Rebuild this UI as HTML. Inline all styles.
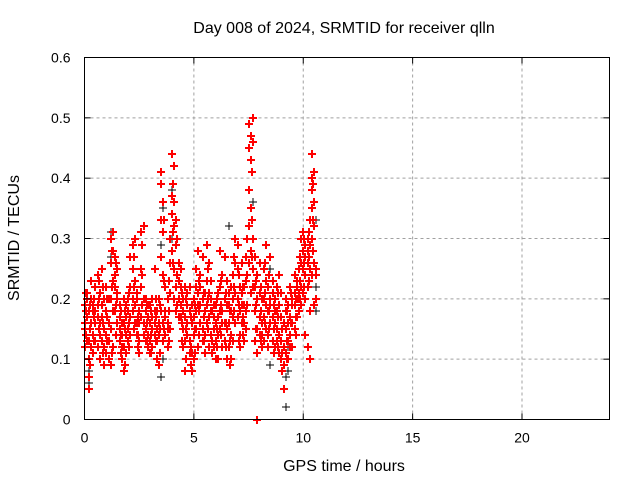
<!DOCTYPE html>
<html><head><meta charset="utf-8"><style>
body{margin:0;background:#fff}
svg text{font-family:"Liberation Sans",sans-serif;font-size:14px;fill:#000}
svg text.big{font-size:16px}
</style></head><body>
<svg id="c" width="640" height="480" xmlns="http://www.w3.org/2000/svg">
<rect width="640" height="480" fill="#fff"/>
<g id="grid"></g>
<g id="pts"></g>
<rect x="84.5" y="57.5" width="525" height="362" fill="none" stroke="#000"/>
<g id="ticks"></g>
<text class="big" x="344" y="33" text-anchor="middle">Day 008 of 2024, SRMTID for receiver qlln</text>
<text class="big" x="344" y="471" text-anchor="middle">GPS time / hours</text>
<text class="big" transform="translate(19,238) rotate(-90)" text-anchor="middle">SRMTID / TECUs</text>
</svg>
<script>
const xTicks=[0,5,10,15,20];
const yTicks=[0,0.1,0.2,0.3,0.4,0.5,0.6];
const yTickLabels=["0","0.1","0.2","0.3","0.4","0.5","0.6"];
const redHours=[0.0,0.1,0.2,0.3,0.4,0.5,0.6,0.7,0.8,0.9,1.0,1.1,1.2,1.3,1.4,1.5,1.6,1.7,1.8,1.9,2.0,2.1,2.2,2.3,2.4,2.5,2.6,2.7,2.8,2.9,3.0,3.1,3.2,3.3,3.4,3.5,3.6,3.7,3.8,3.9,4.0,4.1,4.2,4.3,4.4,4.5,4.6,4.7,4.8,4.9,5.0,5.1,5.2,5.3,5.4,5.5,5.6,5.7,5.8,5.9,6.0,6.1,6.2,6.3,6.4,6.5,6.6,6.7,6.8,6.9,7.0,7.1,7.2,7.3,7.4,7.5,7.6,7.7,7.8,7.9,8.0,8.1,8.2,8.3,8.4,8.5,8.6,8.7,8.8,8.9,9.0,9.1,9.2,9.3,9.4,9.5,9.6,9.7,9.8,9.9,10.0,10.1,10.2,10.3,10.4,10.5,7.9];
const redValues=[[.15,.19,.12,.16],[.2,.13,.17,.21],[.05,.07,.1,.18,.13],[.16,.2,.12,.23],[.18,.14,.19,.11],[.16,.22,.13,.18],[.17,.12,.19,.24],[.1,.14,.21,.16],[.25,.19,.13,.17],[.12,.15,.2,.09],[.18,.11,.14,.22],[.16,.1,.13,.2],[.3,.26,.2,.15,.09],[.31,.28,.23,.18,.12],[.27,.24,.18,.22],[.2,.16,.25,.21],[.19,.13,.15,.17],[.14,.1,.12,.16],[.16,.12,.08,.2],[.14,.19,.17,.11],[.2,.15,.18,.13],[.22,.17,.27,.14],[.29,.25,.2,.18],[.3,.23,.19,.16],[.21,.16,.14,.2],[.13,.11,.18,.16],[.31,.25,.22,.17],[.32,.2,.16,.14],[.18,.15,.13,.2],[.17,.12,.14,.19],[.16,.19,.13,.11],[.15,.2,.17,.12],[.25,.18,.16,.14],[.1,.15,.18,.13],[.16,.2,.09,.14],[.41,.39,.33,.27,.18],[.36,.31,.24,.16,.13],[.18,.22,.14,.17],[.2,.16,.15,.12],[.26,.3,.21,.15],[.44,.37,.34,.28],[.42,.36,.32,.25,.2],[.33,.29,.22,.18],[.26,.2,.17,.23],[.25,.22,.17,.19],[.2,.15,.12,.18],[.22,.17,.13,.08],[.19,.16,.21,.14],[.13,.11,.18,.22],[.16,.08,.11,.19],[.2,.17,.14,.1],[.25,.22,.18,.15],[.28,.21,.19,.12],[.24,.19,.16,.22],[.27,.2,.15,.13],[.18,.14,.21,.11],[.29,.23,.19,.16],[.26,.21,.17,.12],[.23,.18,.14,.2],[.19,.15,.12,.17],[.13,.1,.16,.19],[.17,.14,.1,.21],[.28,.22,.18,.15],[.24,.18,.12,.16],[.27,.2,.16,.13],[.23,.19,.15,.1],[.16,.12,.19,.21],[.14,.18,.22,.1],[.24,.2,.17,.13],[.3,.26,.21,.16],[.29,.25,.2,.17],[.22,.18,.14,.12],[.26,.21,.19,.16],[.19,.16,.13,.22],[.27,.23,.18,.15],[.49,.45,.38,.32,.26],[.47,.43,.35,.28,.21],[.5,.46,.3,.25,.22],[.27,.22,.18,.13],[.24,.2,.15,.11],[.26,.21,.17,.14],[.2,.16,.12,.14],[.25,.2,.17,.13],[.29,.23,.19,.15],[.22,.18,.14,.12],[.27,.2,.16,.19],[.21,.17,.13,.23],[.2,.16,.12,.18],[.22,.18,.15,.13],[.24,.19,.14,.11],[.21,.17,.13,.1],[.16,.12,.09,.05],[.2,.15,.11,.18],[.19,.13,.1,.16],[.22,.17,.14,.12],[.2,.16,.12,.19],[.24,.19,.15,.21],[.23,.2,.17,.22],[.25,.21,.18,.2],[.3,.26,.22,.19],[.31,.28,.25,.21],[.29,.27,.24,.2,.14],[.3,.28,.26,.22,.12],[.33,.29,.25,.18,.1],[.44,.4,.38,.35,.3,.24],[.41,.36,.32,.26,.19],[0,0,0]];
const redHours2=[0.05,0.25,0.45,0.65,0.85,1.05,1.25,1.45,1.65,1.85,2.05,2.25,2.45,2.65,2.85,3.05,3.25,3.45,3.65,3.85,4.05,4.25,4.45,4.65,4.85,5.05,5.25,5.45,5.65,5.85,6.05,6.25,6.45,6.65,6.85,7.05,7.25,7.45,7.65,7.85,8.05,8.25,8.45,8.65,8.85,9.05,9.25,9.45,9.65,9.85,10.05,10.25,10.45,10.6];
const redValues2=[[.14,.18,.21],[.09,.15,.19],[.13,.17,.2],[.15,.2,.23],[.11,.16,.22],[.13,.17,.2],[.28,.22,.11],[.26,.19,.14],[.18,.14,.11],[.09,.15,.18],[.16,.21,.12],[.27,.22,.15],[.17,.14,.12],[.29,.24,.19],[.16,.13,.19],[.18,.14,.11],[.17,.13,.2],[.19,.15,.11],[.33,.23,.15],[.23,.18,.13],[.39,.31,.26],[.3,.24,.19],[.21,.16,.13],[.2,.15,.1],[.17,.12,.09],[.19,.15,.11],[.23,.18,.14],[.21,.17,.13],[.25,.2,.15],[.18,.13,.11],[.2,.15,.12],[.23,.19,.14],[.21,.16,.12],[.18,.13,.09],[.27,.22,.18],[.24,.19,.13],[.22,.17,.14],[.3,.24,.19],[.41,.33,.27],[.23,.19,.15],[.22,.18,.13],[.26,.21,.16],[.24,.18,.15],[.19,.15,.11],[.21,.17,.12],[.15,.11,.08],[.18,.13,.1],[.21,.16,.12],[.2,.17,.14],[.27,.23,.2],[.3,.26,.22],[.31,.27,.23],[.39,.33,.28],[.25,.24,.2]];
const blackHours=[0.2,1.2,3.5,3.6,4.0,7.7,9.2,9.3,10.6,6.6,8.5];
const blackValues=[[.06,.08,.1],[.31,.27],[.07,.29],[.1,.35],[.38,.3],[.46,.36],[.02,.07],[.08,.12],[.22,.18,.33],[.32,.12],[.25,.09]];
const X0=84.5,X1=609.5,Y0=419.5,Y1=57.5;
const xs=h=>X0+(h/24)*(X1-X0);
const ys=v=>Y0-(v/0.6)*(Y0-Y1);
const NS="http://www.w3.org/2000/svg";
function mk(t,a,p){const e=document.createElementNS(NS,t);for(const k in a)e.setAttribute(k,a[k]);p.appendChild(e);return e;}
const grid=document.getElementById('grid'),ticks=document.getElementById('ticks'),pts=document.getElementById('pts');
xTicks.forEach(t=>{const x=xs(t);
 if(t>0){const g=mk('line',{x1:x,x2:x,y1:Y0,y2:Y1,stroke:'#a0a0a0','stroke-dasharray':'3,3'},grid);
 
 }
 mk('line',{x1:x,x2:x,y1:Y0,y2:Y0-6,stroke:'#000'},ticks);mk('line',{x1:x,x2:x,y1:Y1,y2:Y1+6,stroke:'#000'},ticks);
 const tx=mk('text',{x:x,y:Y0+23,'text-anchor':'middle'},ticks);tx.textContent=t;
 
 });
yTicks.forEach((t,i)=>{const y=ys(t);
 if(t>0&&t<0.6){const g=mk('line',{x1:X0,x2:X1,y1:y,y2:y,stroke:'#a0a0a0','stroke-dasharray':'3,3'},grid);
 
 }
 mk('line',{x1:X0,x2:X0+6,y1:y,y2:y,stroke:'#000'},ticks);mk('line',{x1:X1,x2:X1-6,y1:y,y2:y,stroke:'#000'},ticks);
 const tx=mk('text',{x:X0-14,y:y+5,'text-anchor':'end'},ticks);tx.textContent=yTickLabels[i];
 
 });
function plus(h,v,col,w){const x=Math.round(xs(h)),y=Math.round(ys(v));
 const p=mk('path',{d:`M${x-4},${y}H${x+4}M${x},${y-4}V${y+4}`,stroke:col,'stroke-width':w,fill:'none','shape-rendering':'crispEdges'},pts);
 
 }
blackHours.forEach((h,i)=>blackValues[i].forEach(v=>plus(h,v,'#000',1)));
redHours.forEach((h,i)=>redValues[i].forEach(v=>plus(h,v,'#ff0000',2)));
redHours2.forEach((h,i)=>redValues2[i].forEach(v=>plus(h,v,'#ff0000',2)));
</script>
</body></html>
